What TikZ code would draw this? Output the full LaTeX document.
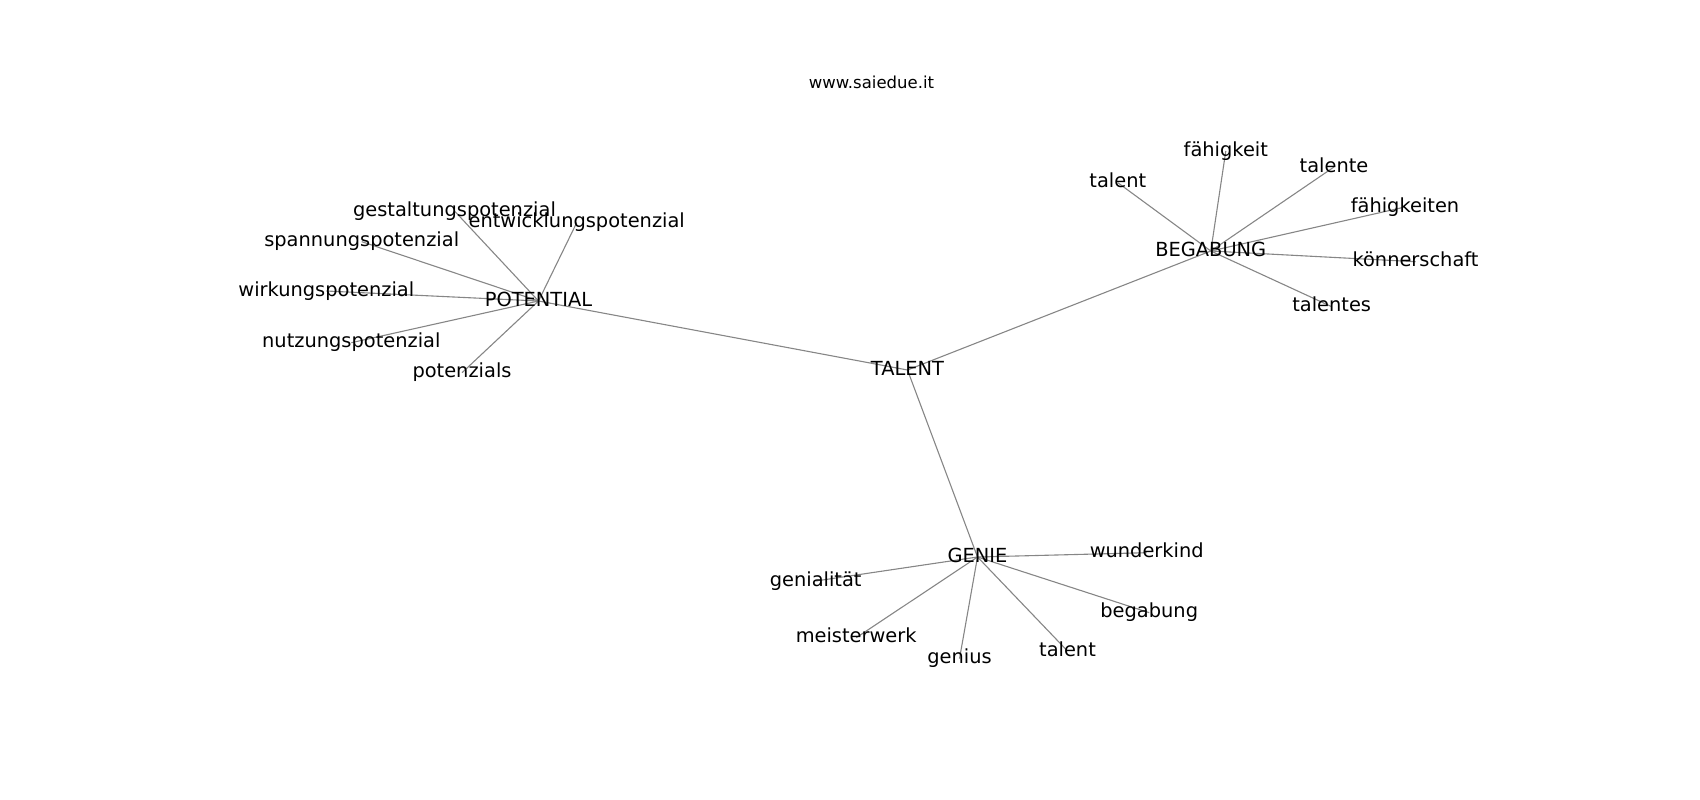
\documentclass[tikz,border=0pt]{standalone}
\usepackage{fontspec}
\setmainfont{DejaVu Sans}
\usetikzlibrary{backgrounds}
\tikzset{
  lbl/.style={inner sep=0pt, outer sep=0pt, text height=14.7pt, text depth=4.6pt, anchor=center, font=\fontsize{19.4}{23}\selectfont, text=black},
  edge/.style={draw=gray!95, line width=1.1pt},
  ttl/.style={inner sep=0pt, anchor=base, font=\fontsize{16.5}{19}\selectfont}
}
\begin{document}
\begin{tikzpicture}[x=1pt,y=-1pt]
\useasboundingbox (0,0) rectangle (1700,800);
\node[ttl] (title) at (871.5,88.5) {www.saiedue.it};
\begin{scope}[yshift=-1pt]
% hubs
\node[lbl] (talent) at (907.5,369) {TALENT};
\node[lbl] (potential) at (538.5,300) {POTENTIAL};
\node[lbl] (begabung) at (1210.8,250) {BEGABUNG};
\node[lbl] (genie) at (977.5,556) {GENIE};
% potential leaves
\node[lbl] (p1) at (454.5,210) {gestaltungspotenzial};
\node[lbl] (p2) at (576.7,221.7) {entwicklungspotenzial};
\node[lbl] (p3) at (361.7,240.7) {spannungspotenzial};
\node[lbl] (p4) at (326.3,290) {wirkungspotenzial};
\node[lbl] (p5) at (351.3,341.7) {nutzungspotenzial};
\node[lbl] (p6) at (462,371.7) {potenzials};
% begabung leaves
\node[lbl] (b1) at (1225.8,150) {fähigkeit};
\node[lbl] (b2) at (1117.8,181.7) {talent};
\node[lbl] (b3) at (1334,166) {talente};
\node[lbl] (b4) at (1405,206) {fähigkeiten};
\node[lbl] (b5) at (1415.5,260.7) {könnerschaft};
\node[lbl] (b6) at (1331.7,305.7) {talentes};
% genie leaves
\node[lbl] (g1) at (1146.7,551.7) {wunderkind};
\node[lbl] (g2) at (815.7,580) {genialität};
\node[lbl] (g3) at (1149.2,611.7) {begabung};
\node[lbl] (g4) at (856.2,636.7) {meisterwerk};
\node[lbl] (g5) at (959.5,657.7) {genius};
\node[lbl] (g6) at (1067.5,650) {talent};
\end{scope}
\begin{scope}[on background layer]
\draw[edge] (talent.center) -- (potential.center);
\draw[edge] (talent.center) -- (begabung.center);
\draw[edge] (talent.center) -- (genie.center);
\foreach \n in {p1,p2,p3,p4,p5,p6}{\draw[edge] (potential.center) -- (\n.center);}
\foreach \n in {b1,b2,b3,b4,b5,b6}{\draw[edge] (begabung.center) -- (\n.center);}
\foreach \n in {g1,g2,g3,g4,g5,g6}{\draw[edge] (genie.center) -- (\n.center);}
\end{scope}
\end{tikzpicture}
\end{document}
